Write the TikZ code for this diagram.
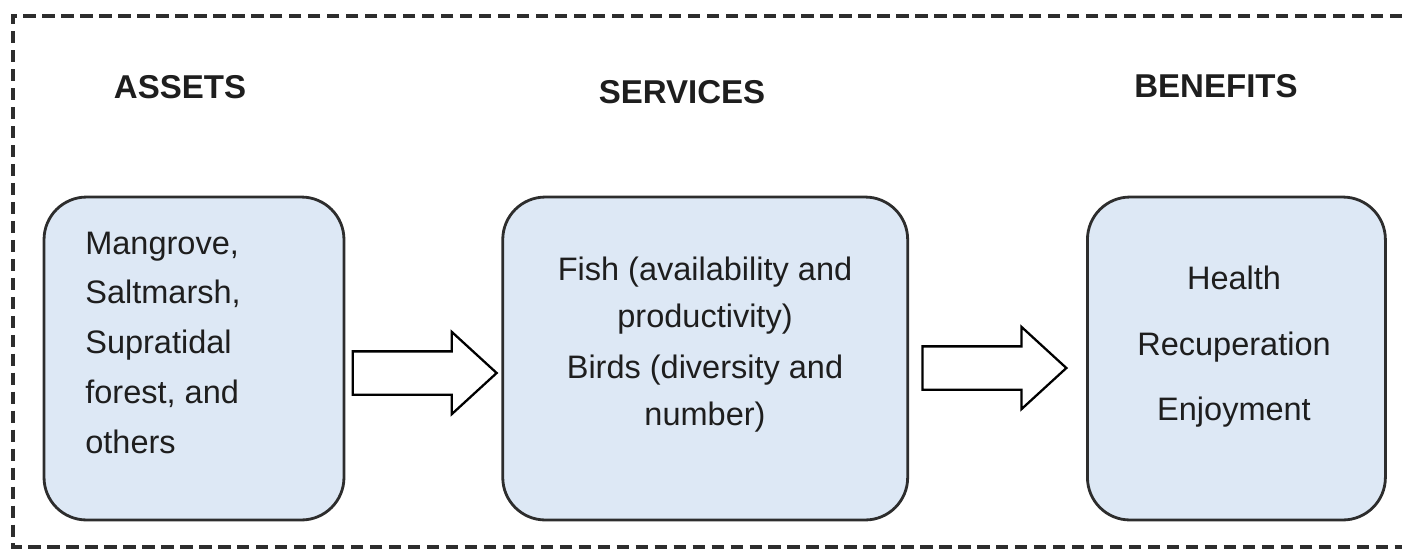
\documentclass[tikz,border=0pt]{standalone}
\usepackage{fontspec}
\setmainfont{Liberation Sans}
\usetikzlibrary{shapes, arrows, positioning, calc}

\definecolor{boxfill}{RGB}{221,232,245}
\definecolor{edge}{RGB}{45,45,45}
\definecolor{ink}{RGB}{30,30,30}

\begin{document}
\begin{tikzpicture}[x=0.02cm, y=-0.02cm,
    box/.style={draw=edge, line width=1.6pt, fill=boxfill, rounded corners=0.85cm,
                minimum height=6.46cm, inner sep=0pt},
    heading/.style={font=\fontsize{18.8}{22}\selectfont\bfseries, text=ink, anchor=base, inner sep=0pt},
    boxtext/.style={font=\fontsize{18.5}{28.3}\selectfont, text=ink, inner sep=0pt},
    blockarrow/.style={single arrow, draw=black, line width=1.3pt, fill=white,
                minimum height=2.88cm, inner xsep=0pt, inner ysep=0.41cm,
                single arrow head extend=0.39cm, single arrow tip angle=85}]

    \useasboundingbox (0,0) rectangle (1402,549);

    % Dashed frame (open on the right)
    \draw[edge, line width=1.8pt, dash pattern=on 7pt off 3.8pt] (1402,16) -- (13,16) -- (13,547) -- (1402,547);

    % Boxes
    \node[box, minimum width=6cm] (assets) at (194,358.5) {};
    \node[box, minimum width=8.1cm, right=3.12cm of assets] (services) {};
    \node[box, minimum width=5.96cm, right=3.54cm of services] (benefits) {};

    % Headings
    \node[heading] (assetsHead) at (180,98) {ASSETS};
    \node[heading] (servicesHead) at (682,103) {SERVICES};
    \node[heading] (benefitsHead) at (1216,97) {BENEFITS};

    % Box contents (base = last line)
    \node[boxtext, align=left, anchor=base west] (assetsText) at (85,453)
        {Mangrove,\\Saltmarsh,\\Supratidal\\forest, and\\others};
    \node[boxtext, align=center, anchor=base, font=\fontsize{18.5}{26.7}\selectfont] (servicesText) at (705,425)
        {Fish (availability and\\productivity)\\[2pt]Birds (diversity and\\number)};
    \node[boxtext, align=center, anchor=base, font=\fontsize{18.5}{37}\selectfont] (benefitsText) at (1234,420)
        {Health\\Recuperation\\Enjoyment};

    % Block arrows between the boxes
    \node[blockarrow] (arrowA) at ([xshift=-0.21cm, yshift=-0.29cm]$(assets.east)!0.5!(services.west)$) {};
    \node[blockarrow] (arrowB) at ([xshift=-0.30cm, yshift=-0.19cm]$(services.east)!0.5!(benefits.west)$) {};
\end{tikzpicture}
\end{document}
